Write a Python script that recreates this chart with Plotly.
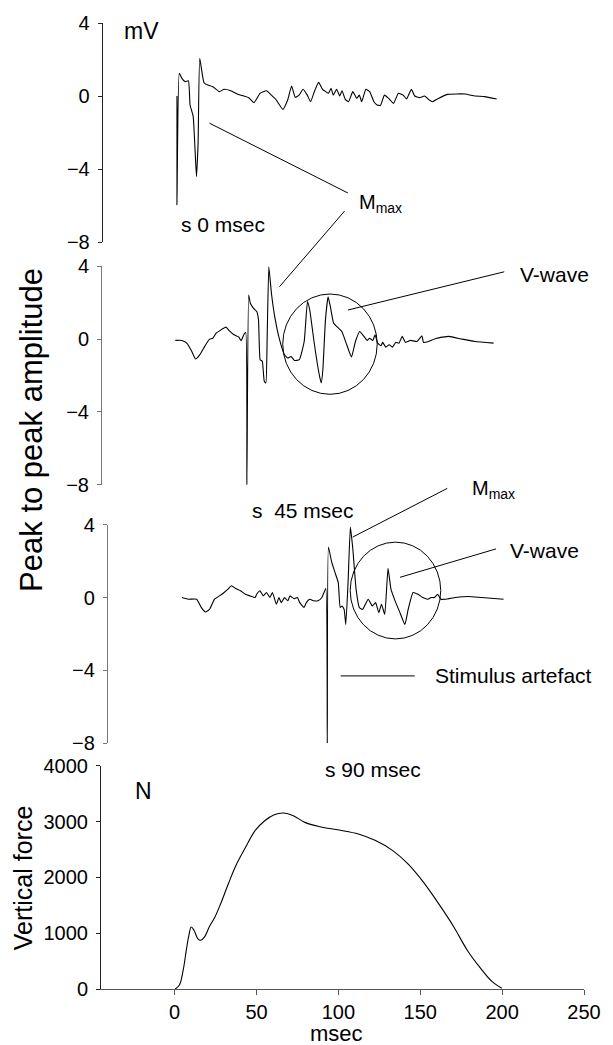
import plotly.graph_objects as go

# ---------------- data (msec, mV / N) ----------------
emg1_t = [1.4, 1.4, 2.8, 4.4, 6.4, 8.4, 9.4, 11.3, 13.3, 14.3, 15.3, 17.9, 20.3, 23.3, 27.3, 30.2,
          34.2, 38.2, 42.2, 45.2, 48.5, 52.1, 54.1, 56.1, 59.1, 62.1, 66.1, 69.0, 71.4, 73.6, 76.0,
          78.4, 81.0, 83.0, 85.5, 87.9, 90.3, 92.3, 93.9, 95.5, 96.9, 98.9, 100.8, 102.2, 104.2,
          106.2, 108.8, 111.2, 112.8, 114.2, 116.8, 119.1, 121.7, 123.7, 125.7, 128.1, 130.7,
          133.7, 136.6, 139.6, 141.6, 144.6, 146.6, 149.6, 152.6, 155.5, 157.5, 160.5, 166.5,
          177.4, 183.4, 189.3, 196.7]
emg1_v = [0.0, -5.95, 1.24, 0.97, 0.79, 0.84, -0.49, -1.12, -4.4, -2.58, 2.06, 0.73, 0.6, 0.51,
          0.24, 0.37, 0.29, 0.11, 0.0, -0.09, -0.36, 0.15, 0.24, 0.29, 0.05, -0.22, -0.73, -0.22,
          0.55, -0.07, 0.05, 0.37, 0.05, -0.31, 0.29, 0.75, 0.37, 0.24, 0.15, 0.42, 0.05, 0.37,
          0.0, 0.29, -0.18, -0.31, 0.24, -0.13, 0.05, -0.31, 0.37, 0.24, -0.31, -0.49, -0.52,
          0.05, -0.13, -0.40, 0.15, 0.05, -0.16, 0.37, 0.0, -0.09, 0.0, -0.22, -0.31, -0.16,
          0.09, 0.11, 0.0, -0.03, -0.16]

emg2_t = [0.4, 4.4, 7.4, 10.4, 12.7, 15.3, 18.3, 21.3, 23.3, 25.3, 28.3, 31.3, 33.3, 36.2, 39.2,
          40.6, 42.2, 43.4, 44.1, 45.2, 46.2, 48.2, 50.2, 51.2, 52.2, 53.5, 54.7, 55.7,
          56.5, 57.5, 59.1, 61.1, 64.1, 67.1, 69.1, 71.1, 73.1, 76.1, 79.1, 81.1, 82.5, 85.1,
          88.1, 89.5, 90.5, 92.1, 93.7, 95.1, 97.1, 100.1, 102.1, 105.1, 108.0, 110.4, 113.0,
          115.6, 117.6, 119.0, 121.0, 122.4, 124.0, 126.0, 127.0, 129.0, 131.0, 133.0, 135.0,
          137.0, 139.0, 141.0, 144.0, 148.0, 151.0, 152.0, 155.0, 160.0, 167.5, 175.5, 183.5,
          194.8]
emg2_v = [-0.07, -0.07, -0.22, -0.67, -1.09, -0.86, -0.4, 0.0, 0.05, 0.33, 0.51, 0.66, 0.47,
          0.24, 0.11, -0.09, 0.24, 0.36, -8.0, 2.42, 1.97, 1.69, 1.51, 1.06, -1.13, -1.22,
          -2.31, -2.41, 0.15, 3.97, 2.52, 1.24, -0.04, -0.86, -1.04, -0.95, -1.17, -1.13, -0.13,
          2.06, 1.6, -0.13, -1.86, -2.41, -1.68, 1.06, 2.33, 1.79, 0.87, 0.6, 0.42, -0.31, -0.98,
          -0.13, 0.42, 0.15, -0.07, 0.05, -0.07, 0.24, -0.22, -0.36, -0.18, -0.44, -0.31, -0.44,
          -0.18, -0.22, 0.15, -0.18, -0.07, -0.13, 0.18, -0.18, -0.13, 0.05, 0.15, 0.0, -0.13,
          -0.22]

emg3_t = [4.4, 8.4, 13.4, 16.3, 18.7, 21.3, 24.3, 27.3, 30.2, 32.6, 34.6, 37.2, 40.2, 43.2,
          46.1, 49.1, 50.1, 52.1, 54.1, 56.1, 58.1, 59.7, 62.1, 63.7, 65.1, 67.1, 69.1, 70.4,
          73.0, 75.0, 76.4, 79.0, 80.4, 82.4, 85.0, 87.5, 89.9, 92.3, 93.2, 93.9, 95.9,
          97.9, 99.9, 101.1, 102.3, 103.5, 104.5, 105.9, 107.3, 108.8, 110.8, 112.8, 114.8,
          118.2, 120.7, 122.7, 124.7, 126.3, 128.3, 130.3, 132.1, 134.6, 137.6, 140.6, 142.6,
          145.6, 148.6, 151.6, 154.6, 156.6, 158.6, 160.6, 162.6, 165.5, 171.5, 179.4, 187.4,
          200.9]
emg3_v = [0.0, -0.09, -0.09, -0.55, -0.79, -0.65, -0.09, 0.09, 0.28, 0.46, 0.65, 0.5, 0.37,
          0.18, 0.09, 0.0, 0.18, 0.37, 0.09, 0.28, 0.0, 0.28, -0.37, 0.0, -0.28, 0.0, -0.18, 0.09,
          -0.06, 0.0, -0.28, -0.55, -0.28, -0.09, -0.18, -0.18, 0.0, 0.5, -8.0, 2.77, 1.94,
          1.38, 0.83, -0.55, -0.46, -0.65, -1.48, 0.83, 3.87, 2.68, 0.46, -0.55, -0.65, -0.09,
          -0.46, -0.28, -0.83, -0.37, -0.92, 1.61, 0.46, -0.18, -0.83, -1.48, -0.65, 0.28, 0.18,
          0.0, -0.09, 0.0, 0.0, 0.18, -0.09, -0.09, 0.0, 0.06, 0.0, -0.09]

force_t = [0.3, 2.9, 5.2, 7.1, 8.7, 10.1, 11.8, 14.1, 15.9, 18.3, 21.1, 24.6, 28.1, 32.8, 37.4,
           43.3, 49.1, 55.0, 60.8, 66.6, 72.5, 79.5, 88.8, 100.5, 112.2, 122.7, 133.2, 142.5,
           151.9, 161.2, 170.5, 178.7, 186.9, 193.9, 199.8]
force_n = [0, 71, 339, 696, 964, 1113, 1054, 905, 875, 934, 1113, 1292, 1530, 1887, 2214, 2541,
           2839, 3018, 3125, 3155, 3107, 2988, 2911, 2851, 2780, 2661, 2482, 2244, 1916, 1530,
           1113, 696, 369, 131, 12]

emg_ticks = [-8, -4, 0, 4]
emg_ticktext = ["\u22128", "\u22124", "0", "4"]
force_ticks = [0, 1000, 2000, 3000, 4000]
x_ticks = [0, 50, 100, 150, 200, 250]

# ---------------- layout helpers ----------------
W, H = 613, 1045
ML, MR, MT, MB = 101, 18, 19, 56
X_RANGE = [-45, 250]
EMG_RANGE = [-8, 4]
FORCE_RANGE = [0, 4000]
DOMAINS = {1: [0.7732, 1.0], 2: [0.5220, 0.7481], 3: [0.2543, 0.4807], 4: [0.0, 0.2309]}
RANGES = {1: EMG_RANGE, 2: EMG_RANGE, 3: EMG_RANGE, 4: FORCE_RANGE}


def yp(panel, v):
    lo, hi = DOMAINS[panel]
    r0, r1 = RANGES[panel]
    return lo + (v - r0) / (r1 - r0) * (hi - lo)


FONT = "Arial, Liberation Sans, Helvetica, sans-serif"
EMG_LINE = dict(color="black", width=1.1, shape="spline", smoothing=0.4)

fig = go.Figure()
fig.add_trace(go.Scatter(x=emg1_t, y=emg1_v, xaxis="x", yaxis="y", mode="lines", line=EMG_LINE))
fig.add_trace(go.Scatter(x=emg2_t, y=emg2_v, xaxis="x", yaxis="y2", mode="lines", line=EMG_LINE))
fig.add_trace(go.Scatter(x=emg3_t, y=emg3_v, xaxis="x", yaxis="y3", mode="lines", line=EMG_LINE))
fig.add_trace(go.Scatter(x=force_t, y=force_n, xaxis="x", yaxis="y4", mode="lines",
                         line=dict(color="black", width=1.1, shape="spline")))

yax_common = dict(showline=True, linewidth=1, ticks="outside", ticklen=4, tickwidth=1,
                  showgrid=False, zeroline=False, ticklabelstandoff=4,
                  tickfont=dict(size=20, color="black", family=FONT), fixedrange=True)

layout = dict(
    width=W, height=H, margin=dict(l=ML, r=MR, t=MT, b=MB),
    paper_bgcolor="white", plot_bgcolor="white", showlegend=False,
    font=dict(family=FONT, color="black"),
    xaxis=dict(range=X_RANGE, domain=[0, 1], anchor="y4", showline=True, linewidth=1,
               linecolor="#555", ticks="outside", ticklen=5, tickcolor="#555",
               tickvals=x_ticks, showgrid=False, zeroline=False,
               tickfont=dict(size=20, color="black", family=FONT)),
    yaxis=dict(domain=DOMAINS[1], range=EMG_RANGE, anchor="free", position=0.0015,
               tickvals=emg_ticks, ticktext=emg_ticktext, linecolor="#222", tickcolor="#222",
               **yax_common),
    yaxis2=dict(domain=DOMAINS[2], range=EMG_RANGE, anchor="free", position=0.0,
                tickvals=emg_ticks, ticktext=emg_ticktext, linecolor="#777", tickcolor="#777",
                **yax_common),
    yaxis3=dict(domain=DOMAINS[3], range=EMG_RANGE, anchor="free", position=0.0121,
                tickvals=emg_ticks, ticktext=emg_ticktext, linecolor="#777", tickcolor="#777",
                **yax_common),
    yaxis4=dict(domain=DOMAINS[4], range=FORCE_RANGE, anchor="x", tickvals=force_ticks,
                linecolor="#222", tickcolor="#222", **yax_common),
)
fig.update_layout(**layout)

shapes = []
# circles around the V-waves
shapes.append(dict(type="circle", xref="x", yref="y2", x0=66.0, x1=123.7, y0=-3.03, y1=2.48,
                   line=dict(color="black", width=1)))
shapes.append(dict(type="circle", xref="x", yref="y3", x0=107.2, x1=162.5, y0=-2.27, y1=3.04,
                   line=dict(color="black", width=1)))


def seg(panel, t0, v0, t1, v1):
    shapes.append(dict(type="line", xref="x", yref="paper", x0=t0, x1=t1,
                       y0=yp(panel, v0), y1=yp(panel, v1), line=dict(color="black", width=1)))


seg(1, 21.3, -1.49, 105.8, -5.31)      # Mmax pointer, top panel
seg(2, 103.8, 7.04, 64.0, 2.88)        # Mmax pointer, middle panel
seg(2, 105.8, 1.6, 201.3, 3.7)         # V-wave pointer, middle panel
seg(3, 108.8, 3.32, 166.5, 5.99)       # Mmax pointer, lower panel
seg(3, 137.6, 1.11, 196.3, 2.67)       # V-wave pointer, lower panel
seg(3, 101.4, -4.30, 146.6, -4.30)     # stimulus artefact pointer
fig.update_layout(shapes=shapes)

anns = []


def txt(panel, t, v, text, size=21, xanchor="left"):
    anns.append(dict(xref="x", yref="paper", x=t, y=yp(panel, v), text=text, showarrow=False,
                     xanchor=xanchor, yanchor="middle",
                     font=dict(size=size, color="black", family=FONT)))


txt(1, -32.2, 3.58, "mV", size=23)
txt(1, 2.4, -7.05, "s 0 msec")
txt(1, 111.6, -5.86, "M<sub>max</sub>", size=20)
txt(2, 209.4, 3.55, "V-wave")
txt(2, 45.9, -9.4, "s  45 msec")
txt(3, 180.2, 5.92, "M<sub>max</sub>", size=20)
txt(3, 203.5, 2.6, "V-wave")
txt(3, 157.5, -4.26, "Stimulus artefact")
txt(3, 90.7, -9.46, "s 90 msec")
txt(4, -25.7, 3554, "N", size=23)

PW = W - ML - MR
PH = H - MT - MB
# axis titles
anns.append(dict(xref="paper", yref="paper", x=(30 - ML) / PW, y=(H - MB - 428) / PH,
                 text="Peak to peak amplitude", textangle=-90, showarrow=False,
                 xanchor="center", yanchor="middle",
                 font=dict(size=31, color="black", family=FONT)))
anns.append(dict(xref="paper", yref="paper", x=(22 - ML) / PW, y=(H - MB - 877) / PH,
                 text="Vertical force", textangle=-90, showarrow=False,
                 xanchor="center", yanchor="middle",
                 font=dict(size=25, color="black", family=FONT)))
anns.append(dict(xref="x", yref="paper", x=99, y=(H - MB - 1034) / PH,
                 text="msec", showarrow=False, xanchor="center", yanchor="middle",
                 font=dict(size=22, color="black", family=FONT)))
fig.update_layout(annotations=anns)

fig.write_html("out.html")
